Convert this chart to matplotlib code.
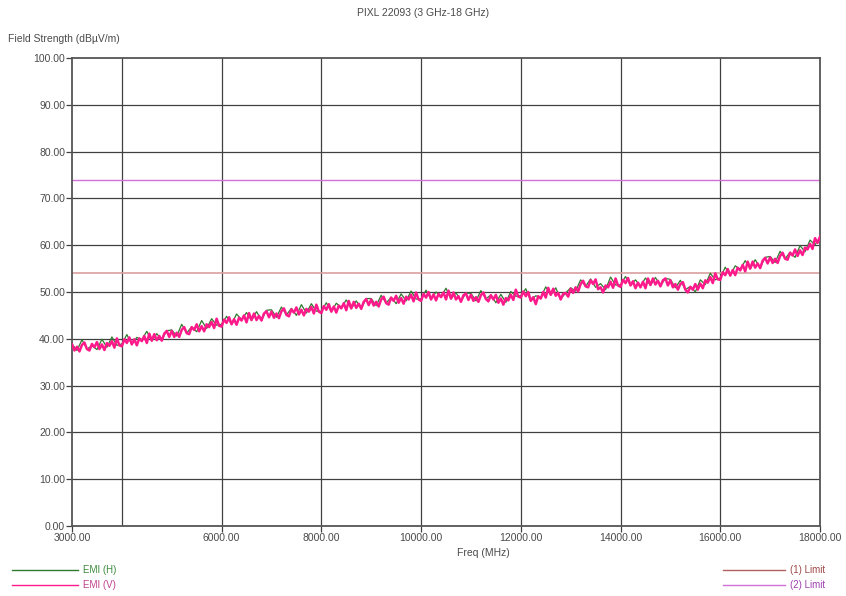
import numpy as np
import matplotlib
matplotlib.use("Agg")
import matplotlib.pyplot as plt

plt.rcParams['font.family'] = ['Liberation Sans', 'DejaVu Sans']

title = "PIXL 22093 (3 GHz-18 GHz)"
y_label = "Field Strength (dBµV/m)"
x_label = "Freq (MHz)"

# EMI (V): sampled every 50 MHz from 3000 to 18000 MHz
v_start, v_stop, v_step = 3000, 18000, 50
emi_v = [
    38.8, 37.5, 38.3, 37.3, 38.7, 39.2, 37.8, 37.5, 38.9, 38.2, 39.3, 37.8, 38.8, 37.6, 39.1, 38.5, 39.5, 38.1, 40.1, 38.6,
    38.4, 39.9, 39.1, 40.3, 38.8, 39.9, 38.6, 40.1, 39.5, 40.6, 39.1, 41.1, 39.6, 41.0, 39.7, 40.6, 39.6, 41.1, 41.7, 40.4,
    41.7, 40.4, 41.3, 40.4, 41.9, 42.5, 41.2, 41.0, 42.5, 41.9, 43.1, 41.6, 42.7, 41.6, 43.1, 42.5, 43.6, 42.3, 44.3, 42.8,
    42.6, 44.1, 43.4, 44.6, 43.1, 44.2, 43.0, 44.5, 43.9, 45.0, 43.5, 45.5, 44.0, 45.4, 44.0, 44.9, 43.9, 45.4, 45.9, 44.6,
    45.8, 44.5, 45.4, 44.4, 45.9, 46.5, 45.1, 44.8, 46.3, 45.6, 46.7, 45.2, 46.2, 45.0, 46.4, 45.8, 46.8, 45.4, 47.3, 45.8,
    45.5, 47.0, 46.2, 47.4, 45.8, 46.9, 45.6, 47.1, 46.5, 47.6, 46.1, 48.1, 46.5, 47.9, 46.6, 47.5, 46.4, 47.9, 48.5, 47.2,
    48.4, 47.1, 47.9, 46.9, 48.4, 49.0, 47.6, 47.3, 48.8, 48.1, 49.2, 47.7, 48.7, 47.5, 49.0, 48.4, 49.4, 48.0, 49.9, 48.4,
    48.1, 49.6, 48.8, 50.0, 48.4, 49.5, 48.2, 49.6, 48.9, 49.9, 48.4, 50.3, 48.6, 49.9, 48.4, 49.1, 47.9, 49.3, 49.7, 48.3,
    49.4, 48.1, 48.9, 47.9, 49.3, 49.9, 48.5, 48.0, 49.3, 48.4, 49.4, 47.7, 48.6, 47.3, 48.7, 48.2, 49.4, 48.3, 50.5, 49.0,
    48.8, 50.1, 49.1, 50.0, 48.1, 48.9, 47.4, 49.1, 48.6, 50.0, 48.8, 50.9, 49.4, 50.7, 49.2, 49.8, 48.4, 49.6, 49.8, 49.0,
    50.7, 49.8, 51.0, 50.1, 51.7, 52.4, 51.2, 51.0, 52.5, 51.7, 52.7, 50.6, 51.0, 49.9, 51.4, 51.0, 52.2, 50.9, 52.9, 51.4,
    51.1, 52.6, 51.9, 53.0, 51.4, 52.3, 50.8, 52.0, 51.0, 52.2, 50.8, 52.9, 51.5, 52.9, 51.6, 52.4, 51.2, 52.5, 52.9, 51.4,
    52.5, 51.0, 51.7, 50.5, 51.7, 52.1, 50.5, 49.9, 51.1, 50.5, 51.7, 50.5, 51.8, 50.8, 52.5, 52.0, 53.2, 51.9, 54.0, 52.7,
    52.6, 54.2, 53.6, 54.9, 53.5, 54.7, 53.6, 55.2, 54.6, 55.8, 54.4, 56.5, 55.0, 56.5, 55.2, 56.1, 55.1, 56.7, 57.3, 56.1,
    57.4, 56.2, 57.1, 56.2, 57.7, 58.4, 57.1, 56.9, 58.4, 57.8, 59.1, 57.7, 58.9, 57.9, 59.5, 59.1, 60.3, 59.2, 61.5, 60.5,
    61.8,
]

# EMI (H): sampled every 100 MHz from 3000 to 18000 MHz
h_start, h_stop, h_step = 3000, 18000, 100
emi_h = [
    38.9, 37.5, 39.8, 37.8, 38.5, 37.7, 39.9, 38.2, 40.4, 38.6,
    38.9, 40.9, 38.8, 40.3, 39.8, 41.6, 39.5, 41.1, 39.8, 41.7,
    41.9, 40.6, 43.1, 41.2, 42.6, 41.5, 43.9, 42.2, 44.3, 42.9,
    43.1, 44.8, 43.1, 45.3, 44.1, 45.6, 43.9, 45.8, 44.0, 46.1,
    46.2, 44.6, 46.8, 45.1, 46.5, 45.0, 47.3, 45.5, 47.5, 45.9,
    45.9, 47.7, 45.8, 47.6, 46.7, 48.3, 46.4, 48.1, 46.5, 48.6,
    48.6, 47.1, 49.3, 47.6, 48.9, 47.5, 49.6, 48.1, 50.2, 48.5,
    48.5, 50.4, 48.4, 50.0, 49.1, 50.8, 48.5, 49.9, 48.0, 49.8,
    49.7, 48.1, 50.3, 48.5, 49.4, 47.7, 49.5, 47.8, 50.1, 49.1,
    49.2, 50.7, 48.1, 49.2, 48.8, 51.1, 49.3, 50.9, 48.5, 49.8,
    50.9, 50.2, 52.6, 51.2, 52.8, 51.0, 51.8, 50.5, 53.2, 51.5,
    51.5, 53.3, 51.4, 52.6, 51.2, 53.0, 51.4, 53.1, 51.3, 52.9,
    52.7, 50.9, 52.5, 50.5, 51.2, 50.0, 52.6, 51.6, 54.0, 52.6,
    53.0, 55.3, 53.5, 55.6, 54.8, 56.7, 54.9, 56.9, 55.2, 57.4,
    57.6, 56.3, 58.7, 57.1, 58.5, 57.4, 59.9, 58.6, 61.1, 60.1,
    61.6,
]

limit1 = 54.0
limit2 = 74.0

x_tick_vals = [3000, 6000, 8000, 10000, 12000, 14000, 16000, 18000]
x_grid_vals = [4000, 6000, 8000, 10000, 12000, 14000, 16000]
y_tick_vals = [0, 10, 20, 30, 40, 50, 60, 70, 80, 90, 100]

freqs_v = np.arange(v_start, v_stop + 1, v_step)
freqs_h = np.arange(h_start, h_stop + 1, h_step)

W, H = 846, 596
fig = plt.figure(figsize=(W / 100, H / 100), dpi=100)
ax = fig.add_axes([72 / W, 1 - 526 / H, (820 - 72) / W, (526 - 58) / H])

txt = '#4a4a4a'
grid_c = '#404040'

for g in x_grid_vals:
    ax.axvline(g, color=grid_c, lw=0.9, zorder=1)
for g in y_tick_vals[1:-1]:
    ax.axhline(g, color=grid_c, lw=0.9, zorder=1)

c_h = '#2f7a2f'
c_v = '#ff1a8c'
c_l1 = '#d9a0a0'
c_l2 = '#d070d8'

ax.axhline(limit1, color=c_l1, lw=1.2, zorder=2)
ax.axhline(limit2, color=c_l2, lw=1.0, zorder=2)

ax.plot(freqs_h, emi_h, color=c_h, lw=0.9, zorder=3)
ax.plot(freqs_v, emi_v, color=c_v, lw=1.8, zorder=4)

ax.set_xlim(3000, 18000)
ax.set_ylim(0, 100)
ax.set_xticks(x_tick_vals)
ax.set_xticklabels([f"{v:.2f}" for v in x_tick_vals])
ax.set_yticks(y_tick_vals)
ax.set_yticklabels([f"{v:.2f}" for v in y_tick_vals])
ax.tick_params(axis='both', direction='out', length=4, width=0.9, color=grid_c,
               labelsize=7.5, labelcolor=txt, pad=1)
for s in ax.spines.values():
    s.set_color('#555555')
    s.set_linewidth(1.3)

fig.text(423 / W, 1 - 13 / H, title, ha='center', va='center', fontsize=7.5, color=txt)
fig.text(8 / W, 1 - 39 / H, y_label, ha='left', va='center', fontsize=7.5, color=txt)
fig.text(483 / W, 1 - 553 / H, x_label, ha='center', va='center', fontsize=7.5, color=txt)

def legend_item(x0, x1, y, color, label, tcolor):
    fig.add_artist(plt.Line2D([x0 / W, x1 / W], [1 - y / H, 1 - y / H], color=color, lw=1.0))
    fig.text((x1 + 5) / W, 1 - y / H, label, ha='left', va='center', fontsize=7, color=tcolor)

legend_item(12, 78, 570, c_h, "EMI (H)", '#3c8a3c')
legend_item(12, 78, 585, c_v, "EMI (V)", '#c04090')
legend_item(723, 785, 570, '#b06060', "(1) Limit", '#a04848')
legend_item(723, 785, 585, c_l2, "(2) Limit", '#a040b0')

fig.savefig("out.png", dpi=100, facecolor='white')
